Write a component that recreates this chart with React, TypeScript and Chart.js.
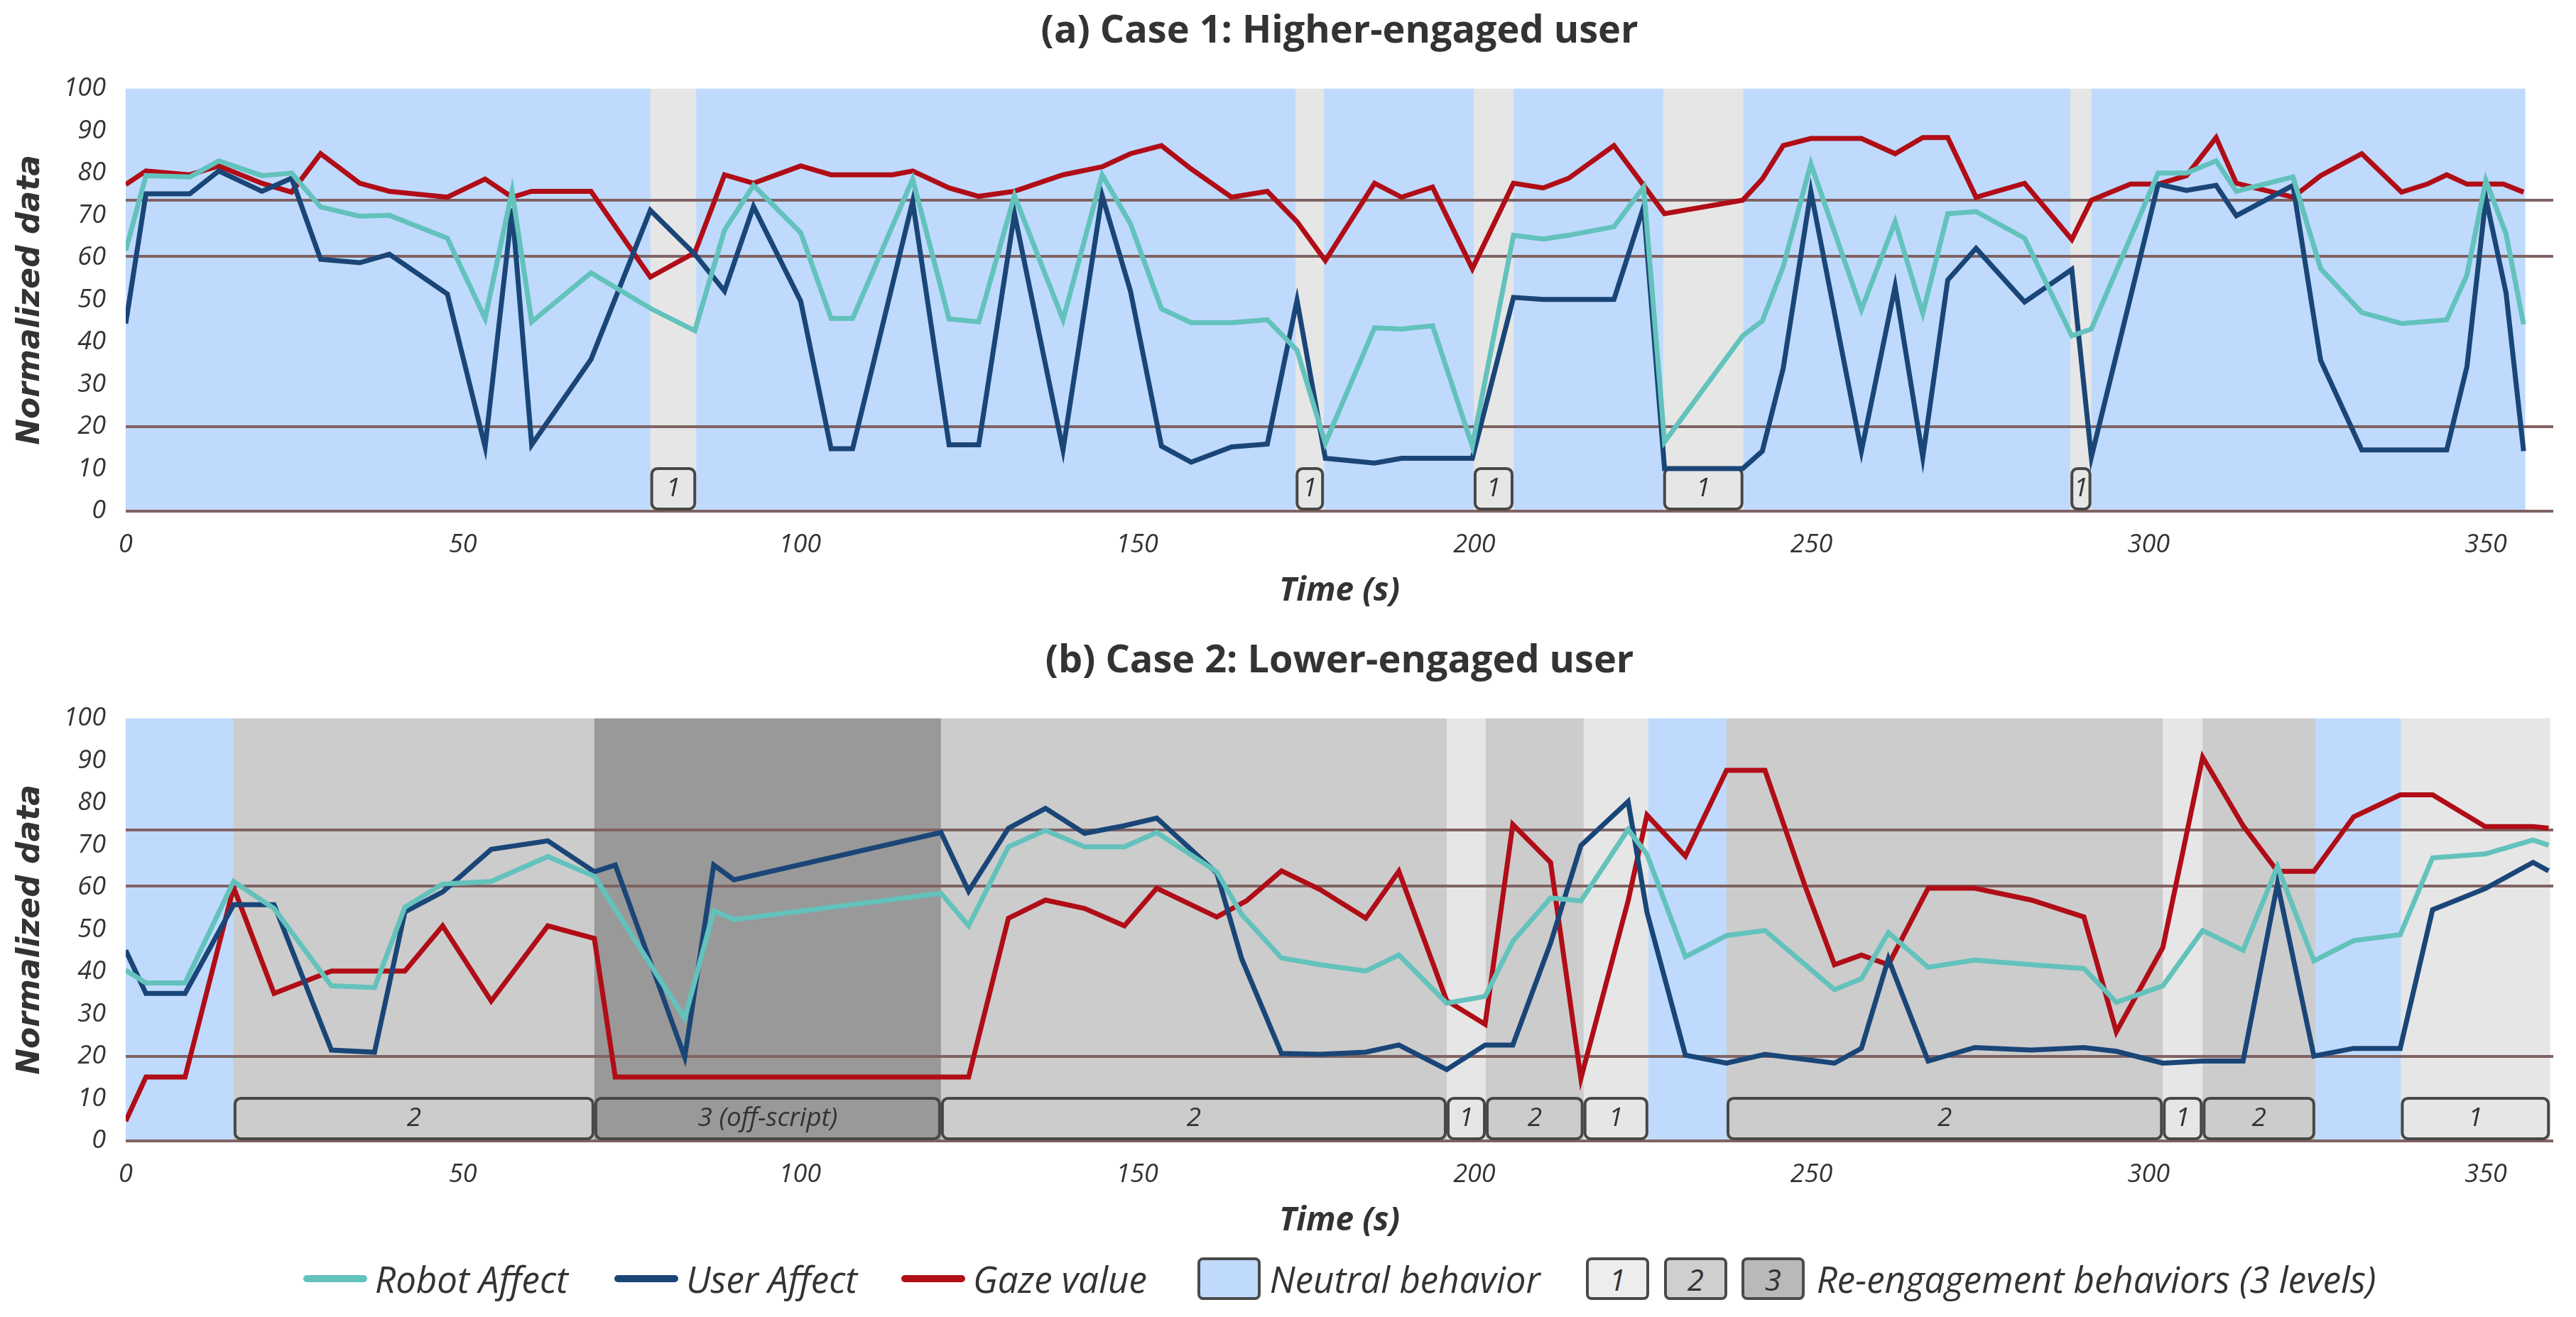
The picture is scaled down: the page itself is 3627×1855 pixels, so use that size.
import React, { useEffect, useRef } from 'react'
import Chart from 'chart.js/auto'

// ---- data: case 1 (higher-engaged user) ----
const case1Time = [0, 3, 9.5, 13.8, 20.2, 24.6, 28.9, 34.7, 39.1, 47.7, 53.3, 57.3, 60.2, 69, 77.8, 84.4, 88.8, 93.1, 100.1, 104.6, 107.8, 113.7, 116.7, 122.1, 126.5, 131.8, 139, 144.8, 149, 153.6, 158, 164, 169.3, 173.7, 177.9, 185.2, 189.2, 193.8, 199.7, 205.8, 210.2, 214, 220.7, 225.1, 228.2, 239.8, 242.7, 245.8, 249.9, 257.4, 262.4, 266.5, 270.2, 274.4, 281.6, 288.6, 291.5, 297.3, 301.4, 305.6, 310, 313, 321.4, 325.5, 331.6, 337.5, 341.3, 344.2, 347.2, 350, 352.6, 353, 355.6]
const case1Robot = [61.7, 79.4, 79.1, 82.9, 79.4, 80, 72, 69.8, 70, 64.6, 45.6, 75.7, 44.8, 56.4, 48, 42.7, 66.5, 77.1, 65.9, 45.6, 45.6, null, 78.6, 45.5, 44.8, 74.7, 45.3, 79.6, 68, 47.9, 44.6, 44.6, 45.3, 38.1, 16.1, 43.4, 43.1, 43.9, 15.4, 65.3, 64.4, 65.3, 67.3, 76.7, 16.4, 41.5, 45, 57.9, 82.2, 47.7, 68.5, 46.8, 70.4, 70.9, 64.6, 41.5, 43.1, null, 80, 80, 82.9, 75.7, 79.1, 57.4, 47, 44.4, null, 45.3, 55.9, 78.3, null, 65.6, 44.2]
const case1User = [44.4, 75.1, 75.1, 80.5, 75.7, 78.8, 59.6, 58.8, 60.8, 51.4, 15.2, 71.6, 15.7, 35.9, 71.2, 60.8, 52.1, 72.1, 49.7, 14.8, 14.8, null, 73.3, 15.7, 15.7, 70.4, 14.5, 74.7, 52.1, 15.4, 11.6, 15.2, 15.9, 49.9, 12.5, 11.4, 12.5, 12.5, 12.5, 50.6, 50.1, 50.1, 50.1, 72, 10.1, 10.1, 14.2, 33.8, 75.7, 14.2, 53.2, 12.8, 54.7, 62.2, 49.5, 57.2, 12.8, null, 77.4, 75.9, 77.1, 69.9, 77.1, 35.7, 14.5, null, null, 14.5, 34.2, 74.1, null, 51.6, 14.2]
const case1Gaze = [77.3, 80.5, 79.6, 81.7, 77.6, 75.5, 84.6, 77.6, 75.7, 74.3, 78.6, 74.3, 75.7, 75.7, 55.4, 61.2, 79.6, 77.6, 81.7, 79.6, null, 79.6, 80.5, 76.5, 74.5, 75.7, 79.6, 81.5, 84.6, 86.5, 81, 74.3, 75.7, 68.5, 59.3, 77.6, 74.3, 76.7, 57.4, 77.6, 76.5, 78.8, 86.5, 77.1, 70.4, 73.6, 78.6, 86.5, 88.2, 88.2, 84.6, 88.4, 88.4, 74.3, 77.6, 64.3, 73.6, 77.4, 77.4, 79.4, 88.4, 77.6, 74.3, 79.4, 84.6, 75.5, 77.4, 79.6, 77.4, null, 77.4, null, 75.5]
const case1BandStart = [0, 77.8, 84.6, 173.5, 177.7, 199.9, 205.8, 228, 239.9, 288.4, 291.5]
const case1BandEnd = [77.8, 84.6, 173.5, 177.7, 199.9, 205.8, 228, 239.9, 288.4, 291.5, 355.8]
const case1BandLevel = [0, 1, 0, 1, 0, 1, 0, 1, 0, 1, 0]
const case1BandLabel = ['', '1', '', '1', '', '1', '', '1', '', '1', '']

// ---- data: case 2 (lower-engaged user) ----
const case2Time = [0, 3, 8.8, 16, 22, 30.5, 36.9, 41.4, 47, 54.2, 62.6, 69.5, 72.6, 82.9, 87.2, 90.2, 120.9, 125, 130.9, 136.4, 142.2, 148.1, 152.9, 161.8, 165.5, 166.2, 171.4, 177.1, 183.9, 188.8, 195.9, 201.6, 205.7, 211.3, 215.8, 222.8, 225.6, 231.3, 237.4, 243.1, 249, 253.4, 257.4, 261.4, 267.3, 274.2, 282.6, 290.4, 295.2, 302.1, 308, 314, 319.1, 324.5, 330.4, 337.3, 342.1, 349.9, 357, 359.3]
const case2Robot = [40.4, 37.4, 37.4, 61.4, 55, 36.7, 36.3, 55.3, 60.8, 61.4, 67.3, 62.6, null, 29, 54.5, 52.4, 58.6, 50.9, 69.6, 73.5, 69.6, 69.6, 73, 63.7, 53.6, null, 43.3, 41.7, 40.2, 44, 32.6, 34.2, 47.2, 57.5, 56.8, 73.7, 67.8, 43.6, 48.6, 49.8, null, 35.8, 38.4, 49.3, 41.1, 42.8, 41.7, 40.8, 32.8, 36.7, 49.8, 45.1, 65, 42.6, 47.4, 48.8, 67, 67.9, 71.2, 70]
const case2User = [45.1, 34.9, 34.9, 55.9, 55.9, 21.5, 21, 54.2, 58.9, 69, 71, 63.7, 65.3, 19.8, 65.3, 61.8, 73, 59.1, 74, 78.7, 72.8, 74.6, 76.4, 63.4, 43.1, null, 20.7, 20.5, 21, 22.7, 16.9, 22.7, 22.7, 46.8, 69.9, 80.3, 54.1, 20.3, 18.4, 20.5, null, 18.4, 21.9, 43.1, 18.9, 22.1, 21.5, 22.1, 21.2, 18.4, 18.9, 18.9, 60.9, 20.1, 21.9, 21.9, 54.7, 59.7, 65.9, 63.9]
const case2Gaze = [4.7, 15.1, 15.1, 60, 34.9, 40.2, null, 40.2, 50.9, 33.1, 50.9, 47.9, 15.1, null, null, null, null, 15.1, 52.7, 57, 55, 50.9, 59.8, 53, null, 56.8, 63.9, 59.5, 52.7, 63.8, 33.2, 27.6, 74.9, 65.9, 14.8, 56.8, 77.1, 67.4, 87.7, 87.7, 60.5, 41.7, 44, 41.7, 59.8, 59.8, 57, 53, 25.8, 45.8, 90.8, 74.6, 63.8, 63.8, 76.7, 81.9, 81.9, 74.4, 74.4, 74]
const case2BandStart = [0, 16, 69.5, 120.9, 195.9, 201.7, 216.2, 225.8, 237.4, 302.1, 308, 324.7, 337.4]
const case2BandEnd = [16, 69.5, 120.9, 195.9, 201.7, 216.2, 225.8, 237.4, 302.1, 308, 324.7, 337.4, 359.5]
const case2BandLevel = [0, 2, 3, 2, 1, 2, 1, 0, 2, 1, 2, 0, 1]
const case2BandLabel = ['', '2', '3 (off-script)', '2', '1', '2', '1', '', '2', '1', '2', '', '1']

const thresholds = [0, 20, 60.3, 73.6]
const xTickStep = 50
const yTickStep = 10

// ---- styles ----
const ROBOT = '#63c2bc'
const USER = '#1a4577'
const GAZE = '#b00d17'
const NEUTRAL = '#bfdafd'
const LEVELS = ['#e6e6e6', '#cccccc', '#999999']
const LEGEND_LEVELS = ['#ededed', '#cfcfcf', '#b9b9b9']
const THRESHOLD = '#806262'
const BOX_BORDER = '#474747'
const TEXT = '#333333'
const SANS = "'Open Sans', sans-serif"
const BOX_TOP = 10.1

const bandsPlugin = {
  id: 'bands',
  beforeDatasetsDraw(chart: any, _args: any, opts: any) {
    const { ctx, chartArea } = chart
    const xs = chart.scales.x
    const ys = chart.scales.y
    const top = ys.getPixelForValue(100)
    const bottom = ys.getPixelForValue(0)
    ctx.save()
    opts.starts.forEach((s: number, i: number) => {
      const x0 = xs.getPixelForValue(s)
      const x1 = xs.getPixelForValue(opts.ends[i])
      const lvl = opts.levels[i]
      ctx.fillStyle = lvl === 0 ? NEUTRAL : LEVELS[lvl - 1]
      ctx.fillRect(x0, top, x1 - x0 + 0.5, bottom - top)
    })
    ctx.strokeStyle = THRESHOLD
    ctx.lineWidth = 4
    thresholds.forEach((v) => {
      const py = ys.getPixelForValue(v)
      ctx.beginPath()
      ctx.moveTo(chartArea.left, py)
      ctx.lineTo(chartArea.right, py)
      ctx.stroke()
    })
    const boxTop = ys.getPixelForValue(BOX_TOP)
    opts.starts.forEach((s: number, i: number) => {
      const lvl = opts.levels[i]
      if (lvl === 0) return
      const x0 = xs.getPixelForValue(s) + 2
      const x1 = xs.getPixelForValue(opts.ends[i]) - 2
      ctx.beginPath()
      ctx.roundRect(x0, boxTop, x1 - x0, bottom - 3 - boxTop, 8)
      ctx.fillStyle = LEVELS[lvl - 1]
      ctx.fill()
      ctx.lineWidth = 4
      ctx.strokeStyle = BOX_BORDER
      ctx.stroke()
      ctx.fillStyle = TEXT
      ctx.font = `italic 37px ${SANS}`
      ctx.textAlign = 'center'
      ctx.textBaseline = 'middle'
      ctx.fillText(opts.labels[i], (x0 + x1) / 2, (boxTop + bottom - 3) / 2)
    })
    ctx.restore()
  },
}

type PanelProps = {
  title: string
  top: number
  time: number[]
  robot: (number | null)[]
  user: (number | null)[]
  gaze: (number | null)[]
  starts: number[]
  ends: number[]
  levels: number[]
  labels: string[]
}

function CasePanel(props: PanelProps) {
  const canvasRef = useRef<HTMLCanvasElement | null>(null)

  useEffect(() => {
    if (!canvasRef.current) return
    const series = (vals: (number | null)[]) => props.time.map((t, i) => ({ x: t, y: vals[i] }))
    const line = (label: string, vals: (number | null)[], color: string) => ({
      label,
      data: series(vals),
      borderColor: color,
      backgroundColor: color,
      borderWidth: 7,
      pointRadius: 0,
      tension: 0,
      spanGaps: true,
      borderJoinStyle: 'miter' as const,
    })
    const chart = new Chart(canvasRef.current, {
      type: 'line',
      data: {
        datasets: [
          line('Robot Affect', props.robot, ROBOT),
          line('User Affect', props.user, USER),
          line('Gaze value', props.gaze, GAZE),
        ],
      },
      plugins: [bandsPlugin],
      options: {
        animation: false,
        responsive: false,
        devicePixelRatio: 1,
        layout: { padding: { left: 0, right: 32, top: 0, bottom: 0 } },
        plugins: {
          legend: { display: false },
          tooltip: { enabled: false },
          title: {
            display: true,
            text: props.title,
            color: TEXT,
            fullSize: false,
            font: { family: SANS, size: 54, weight: 'bold' },
            padding: { top: 12, bottom: 48 },
          },
          bands: {
            starts: props.starts,
            ends: props.ends,
            levels: props.levels,
            labels: props.labels,
          },
        } as any,
        scales: {
          x: {
            type: 'linear',
            min: 0,
            max: 360,
            grid: { display: false, drawTicks: false },
            border: { display: false },
            ticks: {
              stepSize: xTickStep,
              includeBounds: false,
              padding: 26,
              color: TEXT,
              font: { family: SANS, size: 36, style: 'italic' },
            },
            title: {
              display: true,
              text: 'Time (s)',
              color: TEXT,
              font: { family: SANS, size: 46, style: 'italic', weight: 'bold' },
              padding: { top: 0, bottom: 10 },
            },
            afterFit: (s: any) => {
              s.height = 150
            },
          },
          y: {
            min: 0,
            max: 100,
            grid: { display: false, drawTicks: false },
            border: { display: false },
            ticks: {
              stepSize: yTickStep,
              padding: 28,
              color: TEXT,
              font: { family: SANS, size: 36, style: 'italic' },
            },
            title: {
              display: true,
              text: 'Normalized data',
              color: TEXT,
              font: { family: "'DejaVu Sans', sans-serif", size: 44, style: 'italic', weight: 'bold' },
              padding: { top: 17, bottom: 0 },
            },
            afterFit: (s: any) => {
              s.width = 177
            },
          },
        },
      } as any,
    })
    return () => chart.destroy()
  }, [])

  return (
    <canvas
      ref={canvasRef}
      width={3627}
      height={870}
      style={{ position: 'absolute', left: 0, top: props.top, width: 3627, height: 870 }}
    />
  )
}

function LineSwatch({ color }: { color: string }) {
  return <div style={{ width: 90, height: 10, borderRadius: 5, background: color, marginRight: 11 }} />
}

function BoxSwatch({ color, text, mr }: { color: string; text: string; mr: number }) {
  return (
    <div
      style={{
        width: 81,
        height: 52,
        border: '4px solid #4a4a4a',
        borderRadius: 8,
        background: color,
        marginRight: mr,
        display: 'flex',
        alignItems: 'center',
        justifyContent: 'center',
        fontStyle: 'italic',
        fontSize: 42,
        color: TEXT,
      }}
    >
      {text}
    </div>
  )
}

function Legend() {
  const label: React.CSSProperties = { fontStyle: 'italic', fontSize: 51, color: TEXT, lineHeight: '60px' }
  return (
    <div
      style={{
        position: 'absolute',
        left: 427,
        top: 1770,
        height: 62,
        display: 'flex',
        alignItems: 'center',
        fontFamily: SANS,
        whiteSpace: 'nowrap',
      }}
    >
      <LineSwatch color={ROBOT} />
      <span style={{ ...label, marginRight: 65 }}>Robot Affect</span>
      <LineSwatch color={USER} />
      <span style={{ ...label, marginRight: 62 }}>User Affect</span>
      <LineSwatch color={GAZE} />
      <span style={{ ...label, marginRight: 71 }}>Gaze value</span>
      <BoxSwatch color={NEUTRAL} text="" mr={13} />
      <span style={{ ...label, marginRight: 64 }}>Neutral behavior</span>
      <BoxSwatch color={LEGEND_LEVELS[0]} text="1" mr={21} />
      <BoxSwatch color={LEGEND_LEVELS[1]} text="2" mr={20} />
      <BoxSwatch color={LEGEND_LEVELS[2]} text="3" mr={17} />
      <span style={label}>Re-engagement behaviors (3 levels)</span>
    </div>
  )
}

export default function App() {
  return (
    <div
      style={{
        position: 'fixed',
        left: 0,
        top: 0,
        width: 3627,
        height: 1855,
        background: '#ffffff',
        overflow: 'hidden',
      }}
    >
      <CasePanel
        title="(a) Case 1: Higher-engaged user"
        top={0}
        time={case1Time}
        robot={case1Robot}
        user={case1User}
        gaze={case1Gaze}
        starts={case1BandStart}
        ends={case1BandEnd}
        levels={case1BandLevel}
        labels={case1BandLabel}
      />
      <CasePanel
        title="(b) Case 2: Lower-engaged user"
        top={887}
        time={case2Time}
        robot={case2Robot}
        user={case2User}
        gaze={case2Gaze}
        starts={case2BandStart}
        ends={case2BandEnd}
        levels={case2BandLevel}
        labels={case2BandLabel}
      />
      <Legend />
    </div>
  )
}
